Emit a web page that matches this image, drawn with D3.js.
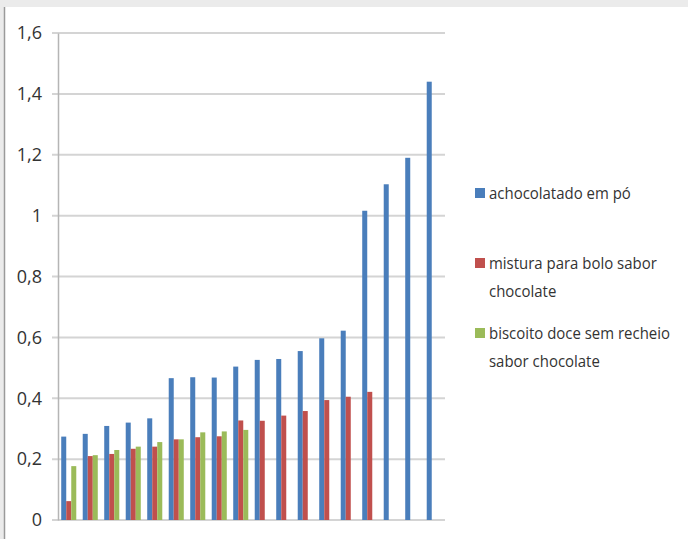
<!DOCTYPE html>
<html lang="pt">
<head>
    <meta charset="UTF-8">
    <title>Chocolate</title>
    <script src="https://d3js.org/d3.v7.min.js"></script>
    <style>
        body { margin: 0; background: #ebebeb; }
        svg { display: block; }
    </style>
</head>
<body>
    <svg width="688" height="539"></svg>
    <script>
        // valores (18 grupos)
        const groups = d3.range(1, 19).map(String);
        const seriesNames = [
            "achocolatado em pó",
            "mistura para bolo sabor chocolate",
            "biscoito doce sem recheio sabor chocolate"
        ];
        const legendLines = [
            ["achocolatado em pó"],
            ["mistura para bolo sabor", "chocolate"],
            ["biscoito doce sem recheio", "sabor chocolate"]
        ];
        const achocolatado = [0.274, 0.283, 0.309, 0.320, 0.334, 0.466, 0.469, 0.468, 0.504, 0.526, 0.529, 0.555, 0.597, 0.622, 1.016, 1.103, 1.190, 1.440];
        const misturaBolo = [0.062, 0.210, 0.217, 0.234, 0.241, 0.265, 0.272, 0.275, 0.327, 0.326, 0.343, 0.358, 0.394, 0.405, 0.421, null, null, null];
        const biscoito = [0.177, 0.213, 0.230, 0.241, 0.256, 0.265, 0.288, 0.291, 0.296, null, null, null, null, null, null, null, null, null];
        const colors = ["#4a7ebb", "#c0504d", "#9bbb59"];
        const yTicks = [0, 0.2, 0.4, 0.6, 0.8, 1, 1.2, 1.4, 1.6];

        const width = 688, height = 539;
        const margin = {top: 33, right: 243, bottom: 19, left: 58};
        const svg = d3.select("svg");

        // moldura
        svg.append("rect").attr("x", 5).attr("y", 7)
            .attr("width", width - 5).attr("height", height - 7)
            .attr("fill", "#fff");
        svg.append("line").attr("x1", 4.5).attr("x2", 4.5)
            .attr("y1", 7).attr("y2", height)
            .attr("stroke", "#9a9a9a").attr("stroke-width", 1.5);

        const x = d3.scaleBand()
            .domain(groups)
            .range([margin.left, width - margin.right])
            .paddingInner(0.3).paddingOuter(0.15);
        const x1 = d3.scaleBand()
            .domain(d3.range(3))
            .range([0, x.bandwidth()]);
        const y = d3.scaleLinear()
            .domain([0, 1.6])
            .range([height - margin.bottom, margin.top]);

        // grade
        svg.append("g")
            .selectAll("line")
            .data(yTicks)
            .join("line")
            .attr("x1", margin.left - 6)
            .attr("x2", width - margin.right)
            .attr("y1", d => y(d))
            .attr("y2", d => y(d))
            .attr("stroke", "#d4d4d4")
            .attr("stroke-width", 2);

        // eixo y
        const yAxis = svg.append("g")
            .attr("transform", `translate(${margin.left},0)`)
            .call(d3.axisLeft(y).tickValues(yTicks).tickSize(0).tickPadding(16)
                .tickFormat(d => String(d).replace(".", ",")));
        yAxis.select(".domain").attr("stroke", "#b5b5b5").attr("stroke-width", 1.5);
        yAxis.selectAll("text")
            .attr("font-family", "Open Sans, sans-serif")
            .attr("font-size", 18)
            .attr("fill", "#333");

        // barras
        const allSeries = [achocolatado, misturaBolo, biscoito];
        allSeries.forEach((vals, s) => {
            svg.append("g")
                .selectAll("rect")
                .data(vals.map((v, i) => ({g: groups[i], v: v})).filter(d => d.v != null))
                .join("rect")
                .attr("x", d => x(d.g) + x1(s))
                .attr("y", d => y(d.v))
                .attr("width", x1.bandwidth())
                .attr("height", d => y(0) - y(d.v))
                .attr("fill", colors[s]);
        });

        // legenda (texto um pouco condensado, como no original)
        const legendY = [193, 263, 333];
        const legend = svg.append("g")
            .attr("font-family", "Open Sans, sans-serif")
            .attr("font-size", 17)
            .attr("fill", "#333");
        seriesNames.forEach((name, s) => {
            const g = legend.append("g").attr("transform", `translate(475,${legendY[s]})`);
            g.append("rect").attr("x", 0).attr("y", -5).attr("width", 10).attr("height", 10)
                .attr("fill", colors[s]);
            legendLines[s].forEach((line, k) => {
                g.append("text")
                    .attr("transform", `translate(14,${k * 28}) scale(0.88,1)`)
                    .attr("dy", "0.35em")
                    .text(line);
            });
        });
    </script>
</body>
</html>
